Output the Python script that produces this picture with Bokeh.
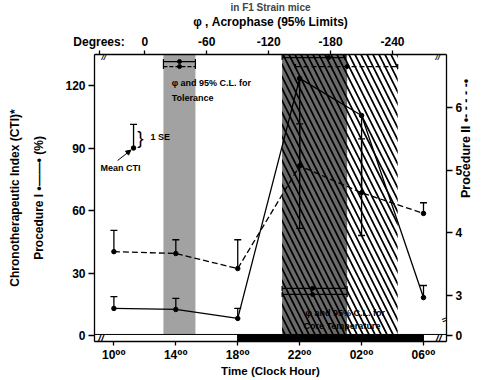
import math
from bokeh.plotting import figure
from bokeh.models import Range1d, LinearAxis, FixedTicker, Label, Arrow, NormalHead
from bokeh.embed import file_html
from bokeh.resources import INLINE

# ---------------- data ----------------
hours = [10, 14, 18, 22, 26, 30]
hour_labels = ["10⁰⁰", "14⁰⁰", "18⁰⁰", "22⁰⁰", "02⁰⁰", "06⁰⁰"]
cti1_mean = [13.0, 12.5, 8.2, 123.4, 105.6, 18.2]      # Procedure I (%)
cti1_se_end = [18.7, 17.8, 13.0, 51.4, 48.0, 24.0]
cti2_mean = [3.70, 3.67, 3.43, 5.07, 4.64, 4.31]       # Procedure II
cti2_se_end = [4.04, 3.89, 3.89, 5.74, 5.50, 4.48]
left_ticks = [0, 30, 60, 90, 120]
right_ticks = [3, 4, 5, 6]
degree_ticks = [0, -60, -120, -180, -240]
# acrophase: [lower limit, phi, upper limit] in degrees
tol_deg = [-18, -33.6, -49]
core_deg = [-133, -162.5, -196]
cti1_deg = [-133, -178, -194]
cti2_deg = [-146, -196, -245]
dark_start, dark_end = 18, 30

FONT = "Liberation Sans, DejaVu Sans"


def deg2h(d):
    return 12 - d / 15.0


X0, X1 = 8.747, 31.486
Y0, Y1 = -2.88, 134.88
# right axis: value 3 sits at left-value 19.2, one unit = 30.08 left units
R0 = 3 + (Y0 - 19.2) / 30.08
R1 = 3 + (Y1 - 19.2) / 30.08
RZERO = round(3 - 19.2 / 30.08, 4)
DEG_LABEL_X = 9.04

p = figure(width=483, height=380, x_range=Range1d(X0, X1), y_range=Range1d(Y0, Y1),
           output_backend="svg", toolbar_location=None,
           min_border_left=94, min_border_right=37, min_border_top=54, min_border_bottom=39)
p.extra_y_ranges = {"right": Range1d(R0, R1)}
p.xgrid.visible = False
p.ygrid.visible = False
p.outline_line_color = None
p.title.text = "in F1 Strain mice"
p.title.align = "center"
p.title.text_font = FONT
p.title.text_font_size = "10px"
p.title.text_font_style = "bold"
p.title.standoff = -3


def style(ax, size="12px"):
    ax.axis_line_color = "black"
    ax.axis_line_width = 1.3
    ax.major_tick_line_color = "black"
    ax.major_tick_line_width = 1.3
    ax.major_tick_out = 5
    ax.major_tick_in = 0
    ax.minor_tick_line_color = None
    ax.major_label_text_font = FONT
    ax.major_label_text_font_style = "bold"
    ax.major_label_text_font_size = size
    ax.major_label_text_color = "black"
    ax.major_label_standoff = 3
    ax.axis_label_text_font = FONT
    ax.axis_label_text_font_style = "bold"
    ax.axis_label_text_font_size = "12px"
    ax.axis_label_text_color = "black"


# bottom axis
bx = p.xaxis[0]
bx.ticker = FixedTicker(ticks=hours)
bx.major_label_overrides = {h: l for h, l in zip(hours, hour_labels)}
style(bx)
bx.major_tick_out = 4
bx.major_label_standoff = 2
bx.axis_label = "Time (Clock Hour)"
bx.axis_label_standoff = 0
bx.axis_label_text_font_size = "11.5px"
# left axis (inner label)
ly = p.yaxis[0]
ly.ticker = FixedTicker(ticks=left_ticks)
style(ly)
ly.major_tick_out = 6
ly.axis_label = "Procedure I •——• (%)"
ly.axis_label_standoff = 16
# left axis (outer label only)
ly2 = LinearAxis()
ly2.ticker = FixedTicker(ticks=[])
style(ly2)
ly2.axis_line_color = None
ly2.major_tick_line_color = None
ly2.major_label_text_font_size = "0px"
ly2.axis_label = "Chronotherapeutic Index (CTI)*"
ly2.axis_label_standoff = 8
p.add_layout(ly2, "left")
# right axis (ticks)
ry = LinearAxis(y_range_name="right")
ry.ticker = FixedTicker(ticks=[RZERO] + right_ticks)
ry.major_label_overrides = {RZERO: "0"}
style(ry)
ry.major_tick_out = 6
p.add_layout(ry, "right")
# right axis (label only, centred low like the original)
ry2 = LinearAxis(y_range_name="right", bounds=(3.6, 3.93))
ry2.ticker = FixedTicker(ticks=[])
style(ry2)
ry2.axis_line_color = None
ry2.major_tick_line_color = None
ry2.major_label_text_font_size = "0px"
ry2.axis_label = "Procedure II •- - - - -•"
ry2.axis_label_standoff = 0
ry2.axis_label_text_font_size = "12.5px"
if hasattr(ry2, "axis_label_orientation"):
    ry2.axis_label_orientation = math.pi / 2
p.add_layout(ry2, "right")
# top axis (degrees)
tx = LinearAxis()
tx.ticker = FixedTicker(ticks=[DEG_LABEL_X] + [deg2h(d) for d in degree_ticks])
overrides = {deg2h(d): str(d) for d in degree_ticks}
overrides[DEG_LABEL_X] = "Degrees:"
tx.major_label_overrides = overrides
style(tx)
tx.major_tick_out = 4
tx.major_label_standoff = 2
tx.axis_label = "φ , Acrophase (95% Limits)"
tx.axis_label_standoff = 3
p.add_layout(tx, "above")

# ---------------- bands ----------------
BAND_BOTTOM = 0.5
p.quad(left=[deg2h(tol_deg[0])], right=[deg2h(tol_deg[2])], bottom=[BAND_BOTTOM], top=[Y1],
       fill_color="#a2a2a2", line_color=None)
p.quad(left=[deg2h(core_deg[0])], right=[deg2h(core_deg[2])], bottom=[BAND_BOTTOM], top=[Y1],
       fill_color="#6a6a6a", line_color=None)
p.quad(left=[deg2h(core_deg[0])], right=[deg2h(cti2_deg[2])], bottom=[BAND_BOTTOM], top=[Y1],
       fill_alpha=0, line_color=None, hatch_pattern="\\", hatch_color="black",
       hatch_weight=1.7, hatch_scale=12)

# light / dark bar
p.quad(left=[X0, dark_start, dark_end], right=[dark_start, dark_end, X1],
       bottom=[Y0] * 3, top=[BAND_BOTTOM] * 3,
       fill_color=["white", "black", "white"], line_color="black", line_width=1)


# ---------------- acrophase marks ----------------
def phase_mark(deg, y, dash):
    p.line([deg2h(deg[0]), deg2h(deg[2])], [y, y], line_color="black", line_width=1.2,
           line_dash=dash)
    p.scatter([deg2h(deg[0]), deg2h(deg[2])], [y, y], marker="dash", angle=math.pi / 2,
              size=5, line_color="black", line_width=1.2)
    p.scatter([deg2h(deg[1])], [y], marker="circle", size=4, color="black")


phase_mark(tol_deg, 131.5, "solid")
phase_mark(tol_deg, 129.1, "4 2")
phase_mark(cti1_deg, 133.4, "solid")
phase_mark(cti2_deg, 129.1, "5 3")
phase_mark(core_deg, 22.6, "solid")
phase_mark(core_deg, 19.7, "solid")

# ---------------- series ----------------
p.segment(x0=hours, y0=cti1_mean, x1=hours, y1=cti1_se_end, line_color="black", line_width=1.3)
p.scatter(hours, cti1_se_end, marker="dash", size=7, line_color="black", line_width=1.3)
p.line(hours, cti1_mean, line_color="black", line_width=1.3)
p.scatter(hours, cti1_mean, marker="circle", size=4.5, color="black")

p.segment(x0=hours, y0=cti2_mean, x1=hours, y1=cti2_se_end, line_color="black",
          line_width=1.3, y_range_name="right")
p.scatter(hours, cti2_se_end, marker="dash", size=7, line_color="black", line_width=1.3,
          y_range_name="right")
p.line(hours, cti2_mean, line_color="black", line_width=1.3, line_dash="6 3",
       y_range_name="right")
p.scatter(hours, cti2_mean, marker="circle", size=4.5, color="black", y_range_name="right")

# ---------------- legend inset (mean / 1 SE) ----------------
p.segment(x0=[11.27], y0=[90], x1=[11.27], y1=[101.3], line_color="black", line_width=1.3)
p.scatter([11.27], [101.3], marker="dash", size=7, line_color="black", line_width=1.3)
p.scatter([11.27], [90], marker="circle", size=4.5, color="black")
p.add_layout(Arrow(end=NormalHead(size=5, fill_color="black", line_color="black"),
                   x_start=10.24, y_start=84, x_end=11.1, y_end=89, line_width=1))


def lab(x, y, text, size="9px", align="left", baseline="middle", angle=0.0,
        style="bold"):
    p.add_layout(Label(x=x, y=y, text=text, text_font=FONT, text_font_size=size,
                       text_font_style=style, text_align=align, text_baseline=baseline,
                       angle=angle, text_color="black"))


lab(11.72, 95.2, "}", size="19px", align="center", style="normal")
lab(12.36, 95.5, "1 SE")
lab(9.13, 80.2, "Mean CTI")
lab(13.73, 121.4, "φ and 95% C.L. for")
lab(13.73, 114.2, "Tolerance")
lab(22.38, 10.6, "φ and 95% C.L. for")
lab(22.25, 4.8, "Core Temperature")

# axis break marks
lab(9.14, -1.6, "//", size="11px", align="center", style="bold italic")
lab(9.33, 133.4, "//", size="8px", align="center", style="bold italic")
lab(30.9, 133.4, "//", size="8px", align="center", style="bold italic")
lab(30.95, -1.6, "//", size="11px", align="center", style="bold italic")
lab(31.35, 7.6, "=", size="9px", align="center", angle=0.35)

open("out.html", "w").write(file_html(p, INLINE))
